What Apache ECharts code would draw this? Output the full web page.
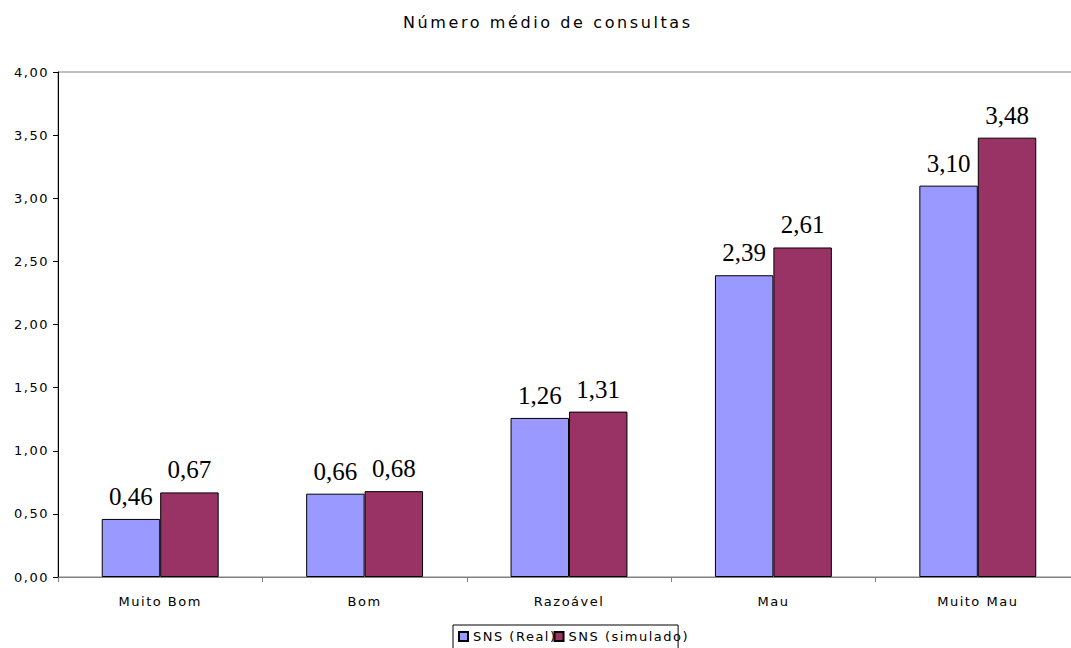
<!DOCTYPE html>
<html>
<head>
<meta charset="utf-8">
<script src="https://cdn.jsdelivr.net/npm/echarts@6/dist/echarts.min.js"></script>
<style>
html,body{margin:0;padding:0;background:#fff;overflow:hidden;}
#c{width:1080px;height:648px;}
#c text[style*="16px"]{letter-spacing:2.6px;}
#c text[style*="13px"]{letter-spacing:1.5px;}
</style>
</head>
<body>
<div id="c"></div>
<script>
const categories = ['Muito Bom', 'Bom', 'Razoável', 'Mau', 'Muito Mau'];
const seriesNames = ['SNS (Real)', 'SNS (simulado)'];
const realValues = [0.46, 0.66, 1.26, 2.39, 3.10];
const simValues = [0.67, 0.68, 1.31, 2.61, 3.48];
const yMin = 0, yMax = 4, yStep = 0.5;

const fmt = v => Number(v).toFixed(2).replace('.', ',');
const chart = echarts.init(document.getElementById('c'), null, {renderer: 'svg'});
const labelCfg = {
  show: true, position: 'top', distance: 10,
  fontFamily: 'Liberation Serif', fontSize: 25, color: '#000',
  formatter: p => fmt(p.value)
};
chart.setOption({
  animation: false,
  backgroundColor: '#fff',
  title: {
    text: 'Número médio de consultas', left: 398, top: 9,
    textStyle: {fontFamily: 'DejaVu Sans', fontSize: 16, fontWeight: 'normal', color: '#000'}
  },
  legend: {
    data: seriesNames, left: 453, top: 625,
    padding: [5, 10, 6, 5], itemGap: 12, itemWidth: 9, itemHeight: 9,
    borderColor: '#000', borderWidth: 1,
    textStyle: {fontFamily: 'DejaVu Sans', fontSize: 13, color: '#000'},
    icon: 'rect'
  },
  grid: {left: 58, top: 72, right: 0, bottom: 71, show: true, borderColor: '#808080', borderWidth: 1, containLabel: false},
  xAxis: {
    type: 'category', data: categories,
    axisLine: {lineStyle: {color: '#808080', width: 1}},
    axisTick: {show: true, length: 5, lineStyle: {color: '#808080'}},
    axisLabel: {fontFamily: 'DejaVu Sans', fontSize: 13, color: '#000', margin: 18}
  },
  yAxis: {
    type: 'value', min: yMin, max: yMax, interval: yStep,
    axisLine: {show: true, lineStyle: {color: '#000', width: 1}},
    axisTick: {show: true, length: 5, lineStyle: {color: '#000'}},
    splitLine: {show: false},
    axisLabel: {fontFamily: 'DejaVu Sans', fontSize: 13, color: '#000', margin: 9, formatter: v => fmt(v)}
  },
  series: [
    {name: seriesNames[0], type: 'bar', data: realValues, barGap: '0%', barCategoryGap: '42.8%',
     itemStyle: {color: '#9999FF', borderColor: '#000', borderWidth: 1}, label: labelCfg},
    {name: seriesNames[1], type: 'bar', data: simValues, barGap: '0%', barCategoryGap: '42.8%',
     itemStyle: {color: '#993366', borderColor: '#000', borderWidth: 1}, label: labelCfg}
  ]
});
</script>
</body>
</html>
